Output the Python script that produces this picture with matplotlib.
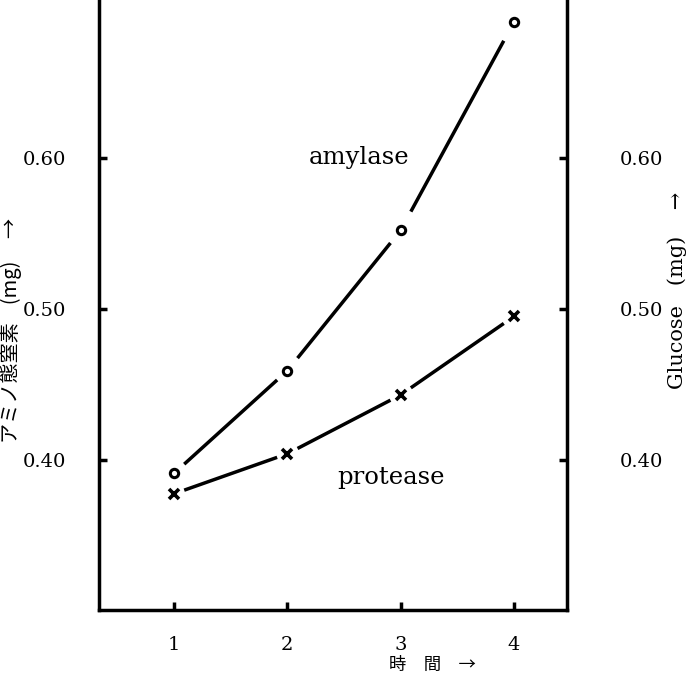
import numpy as np
import matplotlib.pyplot as plt

# time (hours) and measured amounts (mg)
hours = [1, 2, 3, 4]
amylase = [0.391, 0.459, 0.552, 0.690]
protease = [0.3775, 0.404, 0.443, 0.495]

y_ticks = [0.40, 0.50, 0.60]
y_tick_labels = ['0.40', '0.50', '0.60']

serif = 'DejaVu Serif'
jp = ['Noto Sans CJK JP', 'DejaVu Sans']

plt.rcParams['xtick.direction'] = 'in'
plt.rcParams['ytick.direction'] = 'in'


def gapped_line(ax, xs, ys, gap=0.09):
    # connect the points with short gaps next to each marker, like the original
    for i in range(len(xs) - 1):
        x0, x1 = xs[i], xs[i + 1]
        y0, y1 = ys[i], ys[i + 1]
        t = np.array([gap, 1 - gap])
        ax.plot(x0 + (x1 - x0) * t, y0 + (y1 - y0) * t, color='black',
                lw=2.5, solid_capstyle='butt')


fig = plt.figure(figsize=(6.93, 6.79), dpi=100)
ax = fig.add_axes([99 / 693, 69 / 679, 468 / 693, 610 / 679])

gapped_line(ax, hours, amylase)
gapped_line(ax, hours, protease)
ax.plot(hours, amylase, 'o', ms=6, mfc='white', mec='black', mew=2.2)
ax.plot(hours, protease, 'x', ms=7, mec='black', mew=2.6)

ax.set_xlim(0.338, 4.468)
ax.set_ylim(0.3005, 0.7046)

for s in ['left', 'right', 'bottom']:
    ax.spines[s].set_linewidth(2.5)
ax.spines['top'].set_visible(False)

ax.set_xticks(hours)
ax.set_xticklabels([str(h) for h in hours], fontfamily=serif, fontsize=14)
ax.tick_params(axis='x', direction='in', length=6, width=2.5, pad=19)

ax.set_yticks(y_ticks)
ax.set_yticklabels(y_tick_labels, fontfamily=serif, fontsize=14)
ax.tick_params(axis='y', direction='in', length=6, width=2.5, pad=24,
               left=True, right=False)

sec = ax.secondary_yaxis('right')
sec.set_yticks(y_ticks)
sec.set_yticklabels(y_tick_labels, fontfamily=serif, fontsize=14)
sec.tick_params(axis='y', direction='in', length=6, width=2.5, pad=38)
sec.spines['right'].set_visible(False)

ax.text(2.63, 0.600, 'amylase', fontfamily=serif, fontsize=17.5,
        ha='center', va='center')
ax.text(2.915, 0.388, 'protease', fontfamily=serif, fontsize=17.5,
        ha='center', va='center')

fig.text(11 / 693, 1 - 330 / 679, 'アミノ態窒素    (mg)     →', family=jp,
         fontsize=14.5, rotation=90, ha='center', va='center')
fig.text(677 / 693, 1 - 290 / 679, 'Glucose   (mg)    →', family=[serif, 'DejaVu Sans'],
         fontsize=15, rotation=90, ha='center', va='center')
fig.text(432 / 693, 1 - 665 / 679, '時　間　→', family=jp,
         fontsize=12.5, ha='center', va='center')

fig.savefig('out.png', dpi=100)
